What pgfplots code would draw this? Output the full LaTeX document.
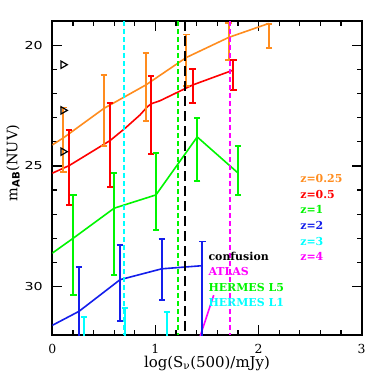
\documentclass[border=0pt]{standalone}
\usepackage{fontspec}
\setmainfont{DejaVu Serif}
\setsansfont{DejaVu Sans}
\newfontfamily\ytickfont{DejaVu Sans}[FakeStretch=1.3]
\usepackage{pgfplots}
\pgfplotsset{compat=1.18}

\definecolor{zorange}{RGB}{255,140,30}
\definecolor{zred}{RGB}{255,0,0}
\definecolor{zgreen}{RGB}{0,245,0}
\definecolor{zblue}{RGB}{20,30,235}
\definecolor{zcyan}{RGB}{0,255,255}
\definecolor{zmag}{RGB}{255,0,255}

\pgfplotsset{
  ebars/.style={draw=none, mark=none,
    error bars/.cd, y dir=both, y explicit,
    error bar style={draw=#1, line width=2bp, solid},
    error mark options={draw=#1, rotate=90, mark size=3.2bp, line width=1.8bp}},
}
\tikzset{leg/.style={anchor=west, inner sep=0pt, font=\bfseries\fontsize{11}{13}\selectfont}}

\begin{document}
\begin{tikzpicture}
\begin{axis}[
  scale only axis, width=309.4bp, height=314bp,
  xmin=0, xmax=3, ymin=19, ymax=32, y dir=reverse,
  xtick={0,1,2,3}, minor x tick num=4,
  ytick={20,25,30}, minor y tick num=4,
  tick align=inside,
  major tick length=10bp, minor tick length=5bp,
  tick style={black, line width=1.3bp},
  axis line style={line width=1.8bp},
  /pgf/number format/assume math mode=true,
  xticklabel style={font=\fontsize{12.5}{14}\selectfont, yshift=-6bp},
  yticklabel style={font=\ytickfont\fontsize{11}{13}\selectfont, xshift=-6bp},
  xlabel={log(S\textsubscript{ν}(500)/mJy)},
  xlabel style={font=\fontsize{15}{18}\selectfont, at={(axis description cs:0.5,0)}, anchor=center, yshift=-28.5bp},
  ylabel={m\textsubscript{\sffamily\bfseries AB}(NUV)},
  ylabel style={font=\fontsize{14.5}{17}\selectfont, at={(axis description cs:-0.127,0.548)}, anchor=center},
]
% model curves
\addplot[zorange, line width=1.6bp] coordinates {
  (0,24.13)(0.107,23.84)(0.50,22.62)(0.906,21.65)(1.30,20.51)(1.71,19.68)(2.10,19.10)};
\addplot[zred, line width=1.6bp] coordinates {
  (0,25.30)(0.162,24.99)(0.56,23.95)(0.706,23.44)(0.85,22.89)(0.92,22.56)(0.957,22.43)(1.045,22.30)(1.36,21.65)(1.756,21.03)};
\addplot[zgreen, line width=1.6bp] coordinates {
  (0,28.61)(0.204,27.99)(0.60,26.75)(1.005,26.20)(1.405,23.80)(1.80,25.29)};
\addplot[zblue, line width=1.6bp] coordinates {
  (0,31.60)(0.259,31.02)(0.657,29.71)(1.061,29.26)(1.455,29.13)};
\addplot[zmag, line width=1.6bp] coordinates {(1.43,32.1)(1.565,30.35)};

% error bars
\addplot[ebars=zorange] coordinates {
  (0.107,23.91) +- (0,1.33)
  (0.500,22.705) +- (0,1.465)
  (0.906,21.735) +- (0,1.395)
  (1.300,20.62) +- (0,1.06)
  (1.710,19.85) +- (0,0.77)
  (2.100,19.62) +- (0,0.49)};
\addplot[ebars=zred] coordinates {
  (0.162,25.06) +- (0,1.55)
  (0.560,24.135) +- (0,1.725)
  (0.957,22.89) +- (0,1.61)
  (1.360,21.705) +- (0,0.705)
  (1.756,21.24) +- (0,0.62)};
\addplot[ebars=zgreen] coordinates {
  (0.204,28.265) +- (0,2.065)
  (0.600,27.39) +- (0,2.11)
  (1.005,26.06) +- (0,1.58)
  (1.405,24.335) +- (0,1.305)
  (1.800,25.185) +- (0,1.015)};
\addplot[ebars=zblue] coordinates {
  (0.259,31.345) +- (0,2.155)
  (0.657,29.86) +- (0,1.57)
  (1.061,29.285) +- (0,1.255)
  (1.455,30.815) +- (0,2.685)};
\addplot[ebars=zcyan] coordinates {
  (0.307,32.385) +- (0,1.115)
  (0.706,32.19) +- (0,1.31)
  (1.110,32.28) +- (0,1.22)};

% lower limits
\addplot[black, only marks, mark=triangle, mark size=4.2bp,
  mark options={rotate=-90, line width=1.2bp}] coordinates {
  (0.105,20.81)(0.105,22.70)(0.105,24.41)};

% survey limits
\addplot[zcyan, line width=1.6bp, dash pattern=on 5bp off 3bp] coordinates {(0.695,19)(0.695,32)};
\addplot[zgreen, line width=1.6bp, dash pattern=on 5bp off 3bp] coordinates {(1.216,19)(1.216,32)};
\addplot[black, line width=1.8bp, dash pattern=on 10bp off 5bp] coordinates {(1.287,19)(1.287,32)};
\addplot[zmag, line width=1.6bp, dash pattern=on 5bp off 3bp] coordinates {(1.724,19)(1.724,32)};

% labels
\node[leg, zorange] at (axis cs:2.403,25.51) {z=0.25};
\node[leg, zred] at (axis cs:2.403,26.17) {z=0.5};
\node[leg, zgreen] at (axis cs:2.403,26.82) {z=1};
\node[leg, zblue] at (axis cs:2.403,27.48) {z=2};
\node[leg, zcyan] at (axis cs:2.403,28.13) {z=3};
\node[leg, zmag] at (axis cs:2.403,28.75) {z=4};
\node[leg, black] at (axis cs:1.513,28.75) {confusion};
\node[leg, zmag] at (axis cs:1.513,29.39) {ATLAS};
\node[leg, zgreen] at (axis cs:1.513,30.05) {HERMES L5};
\node[leg, zcyan] at (axis cs:1.513,30.67) {HERMES L1};
\end{axis}
\pgfresetboundingbox
\path[use as bounding box] ([shift={(-52.3bp,-47bp)}]current axis.south west) rectangle ([shift={(20.3bp,21bp)}]current axis.north east);
\end{tikzpicture}
\end{document}
